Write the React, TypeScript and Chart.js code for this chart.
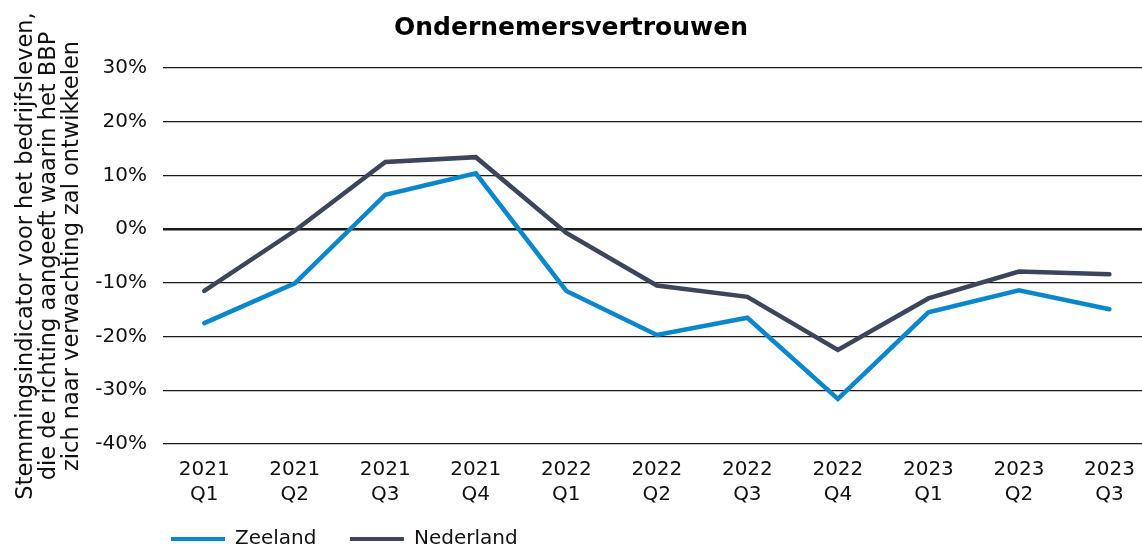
import React, { useEffect, useRef } from "react";
import { Chart, registerables } from "chart.js";

Chart.register(...registerables);

const categories: string[][] = [
  ["2021", "Q1"], ["2021", "Q2"], ["2021", "Q3"], ["2021", "Q4"],
  ["2022", "Q1"], ["2022", "Q2"], ["2022", "Q3"], ["2022", "Q4"],
  ["2023", "Q1"], ["2023", "Q2"], ["2023", "Q3"],
];
const zeeland = [-17.5, -10.1, 6.4, 10.4, -11.5, -19.7, -16.5, -31.6, -15.5, -11.4, -14.9];
const nederland = [-11.5, -0.3, 12.5, 13.4, -0.7, -10.5, -12.6, -22.5, -12.9, -7.9, -8.4];
const yTicks = [-40, -30, -20, -10, 0, 10, 20, 30];
const yTitle = [
  "Stemmingsindicator voor het bedrijfsleven,",
  "die de richting aangeeft waarin het BBP",
  "zich naar verwachting zal ontwikkelen",
];
const chartTitle = "Ondernemersvertrouwen";

const FONT = "'DejaVu Sans', sans-serif";

export default function App() {
  const ref = useRef<HTMLCanvasElement | null>(null);
  useEffect(() => {
    if (!ref.current) return;
    const chart = new Chart(ref.current, {
      type: "line",
      data: {
        datasets: [
          {
            label: "Zeeland",
            data: zeeland.map((v, i) => ({ x: i, y: v })),
            borderColor: "#0a87cb",
            backgroundColor: "#0a87cb",
            borderWidth: 4.5,
            pointRadius: 0,
            borderCapStyle: "round",
            tension: 0,
          },
          {
            label: "Nederland",
            data: nederland.map((v, i) => ({ x: i, y: v })),
            borderColor: "#3c4559",
            backgroundColor: "#3c4559",
            borderWidth: 4.5,
            pointRadius: 0,
            borderCapStyle: "round",
            tension: 0,
          },
        ],
      },
      options: {
        animation: false,
        responsive: true,
        maintainAspectRatio: false,
        layout: { padding: { left: 0, right: 0, top: 0, bottom: -13 } },
        plugins: {
          title: {
            display: true,
            text: chartTitle,
            color: "#000",
            font: { family: FONT, size: 25, weight: "bold", lineHeight: 1.2 },
            padding: { top: 13, bottom: 25 },
          },
          legend: {
            position: "bottom",
            align: "start",
            fullSize: false,
            labels: {
              color: "#111",
              font: { family: FONT, size: 20 },
              boxWidth: 54,
              boxHeight: 4,
              padding: 8,
              generateLabels: (c: any) =>
                Chart.defaults.plugins.legend.labels
                  .generateLabels(c)
                  .map((l: any) => ({ ...l, text: l.text + "    ", lineWidth: 0 })),
            },
          },
          tooltip: { enabled: false },
        },
        scales: {
          x: {
            type: "linear",
            min: -0.456,
            max: 10.36,
            grid: { display: false, drawTicks: false },
            border: { display: false },
            afterBuildTicks: (scale: any) => {
              scale.ticks = categories.map((_, i) => ({ value: i }));
            },
            afterFit: (scale: any) => {
              scale.height = 77;
              scale.paddingLeft = 0;
              scale.paddingRight = 0;
            },
            ticks: {
              autoSkip: false,
              maxRotation: 0,
              color: "#111",
              padding: 13,
              font: { family: FONT, size: 20, lineHeight: 1.25 },
              callback: (v: any) => categories[Math.round(Number(v))] ?? "",
            },
          },
          y: {
            min: -40,
            max: 30,
            afterBuildTicks: (scale: any) => {
              scale.ticks = yTicks.map((v) => ({ value: v }));
            },
            afterFit: (scale: any) => {
              scale.width = 163;
            },
            border: { display: false },
            grid: {
              color: "#1a1a1a",
              lineWidth: (ctx: any) => (ctx.tick && ctx.tick.value === 0 ? 2.6 : 1.2),
              drawTicks: false,
            },
            ticks: {
              color: "#111",
              padding: 16,
              font: { family: FONT, size: 20 },
              callback: (v: any) => `${v}%`,
            },
            title: {
              display: true,
              text: yTitle,
              color: "#111",
              font: { family: FONT, size: 22.5, lineHeight: 1.02 },
              padding: { top: 15, bottom: 0 },
            },
          },
        },
      },
    });
    return () => chart.destroy();
  }, []);
  return (
    <div style={{ position: "fixed", left: 0, top: 0, width: 1142, height: 546, background: "#fff" }}>
      <canvas ref={ref} />
    </div>
  );
}
